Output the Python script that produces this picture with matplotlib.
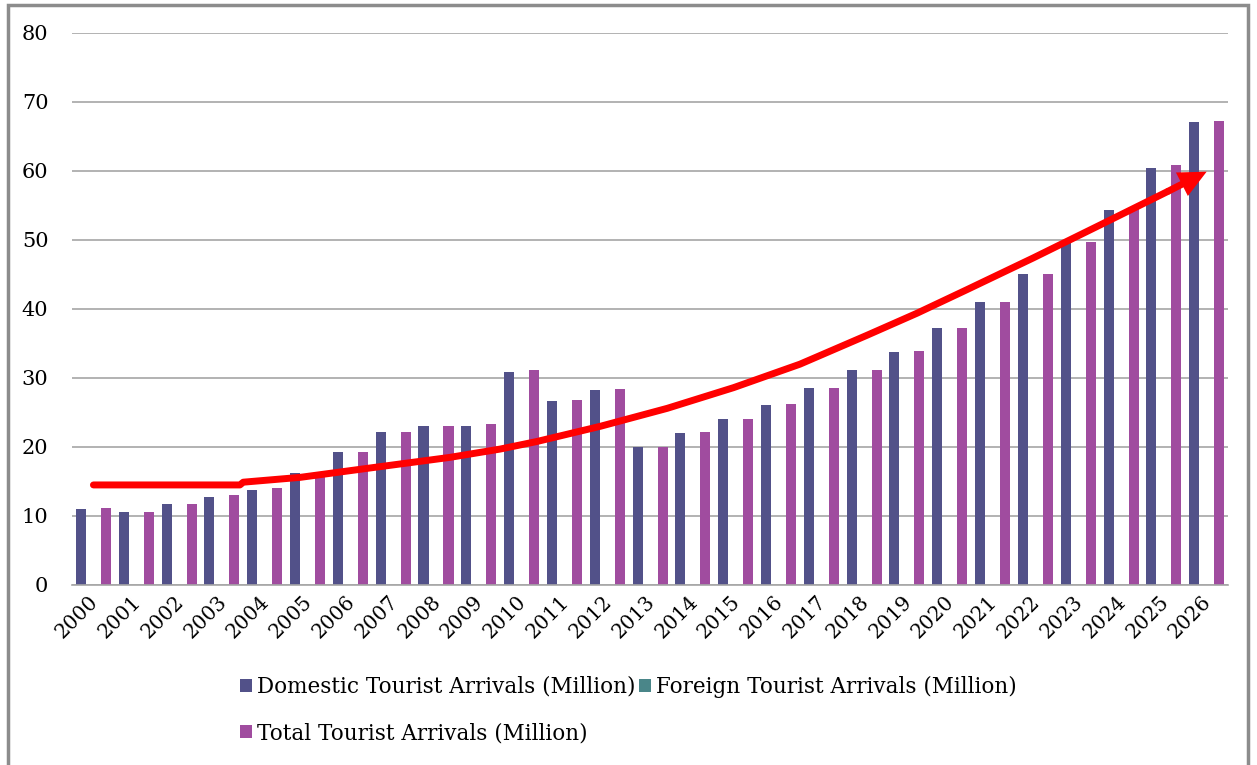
import numpy as np
import matplotlib.pyplot as plt
from matplotlib.patches import Rectangle, FancyArrowPatch
from matplotlib.transforms import ScaledTranslation

# Data
years = [str(y) for y in range(2000, 2027)]
domestic = [11.0, 10.6, 11.7, 12.8, 13.8, 16.2, 19.3, 22.1, 23.1, 23.1,
            30.9, 26.6, 28.3, 20.0, 22.0, 24.0, 26.1, 28.5, 31.1, 33.8,
            37.2, 41.0, 45.0, 49.6, 54.4, 60.4, 67.1]
foreign = [0.0] * len(years)
total = [11.1, 10.6, 11.7, 13.0, 14.0, 16.3, 19.3, 22.1, 23.1, 23.3,
         31.1, 26.8, 28.4, 20.0, 22.1, 24.0, 26.3, 28.5, 31.1, 33.9,
         37.2, 41.0, 45.0, 49.7, 54.5, 60.8, 67.3]

# hand-drawn red trend arrow (category position, value)
trend_x = [0.0, 2.5, 3.42, 3.5, 4.83, 6.39, 8.33, 9.5, 10.36, 11.84,
           13.4, 14.95, 16.5, 18.07, 19.24, 20.4, 21.95, 23.52, 25.08]
trend_y = [14.5, 14.5, 14.5, 14.9, 15.6, 16.9, 18.5, 19.7, 20.8, 23.0,
           25.6, 28.6, 32.0, 36.2, 39.4, 42.8, 47.4, 52.2, 57.0]
arrow_end = (26.0, 59.9)

c_dom = '#525189'
c_for = '#4A8689'
c_tot = '#A04C9F'
grid_c = '#A6A6A6'

plt.rcParams['font.family'] = ['DejaVu Serif']

fig = plt.figure(figsize=(12.57, 7.65), dpi=100)
ax = fig.add_axes([0.0573, 0.2353, 0.9197, 0.7216])

x = np.arange(len(years))
w = 0.235
off = 0.292
ax.bar(x - off, domestic, w, color=c_dom, label='Domestic Tourist Arrivals (Million)', zorder=2)
ax.bar(x, foreign, w, color=c_for, label='Foreign Tourist Arrivals (Million)', zorder=2)
ax.bar(x + off, total, w, color=c_tot, label='Total Tourist Arrivals (Million)', zorder=2)

# red trend line with arrow head
ax.plot(trend_x, trend_y, color='red', lw=5, solid_capstyle='round',
        solid_joinstyle='round', zorder=4)
head = FancyArrowPatch((trend_x[-1], trend_y[-1]), arrow_end,
                       arrowstyle='simple,head_length=2.0,head_width=1.9,tail_width=0.5',
                       mutation_scale=10, color='red', lw=0,
                       shrinkA=0, shrinkB=0, zorder=5)
ax.add_patch(head)

ax.set_xlim(-0.5, len(years) - 0.5)
ax.set_ylim(0, 80)
ax.set_yticks(range(0, 81, 10))
ax.yaxis.grid(True, color=grid_c, lw=1.2, zorder=0)
ax.set_axisbelow(True)
for s in ['top', 'right', 'left']:
    ax.spines[s].set_visible(False)
ax.spines['bottom'].set_color(grid_c)
ax.spines['bottom'].set_linewidth(1.2)

ax.set_xticks(x)
ax.set_xticklabels(years, rotation=45, ha='right', rotation_mode='anchor', fontsize=14.5)
ax.tick_params(axis='x', length=0, pad=5)
ax.tick_params(axis='y', length=0, pad=17, labelsize=15)
shift = ScaledTranslation(-5 / 100, 0, fig.dpi_scale_trans)
for lab in ax.get_xticklabels():
    lab.set_transform(lab.get_transform() + shift)

h, l = ax.get_legend_handles_labels()
order = [0, 2, 1]
fig.legend([h[i] for i in order], [l[i] for i in order], ncol=2,
           loc='upper left', bbox_to_anchor=(0.184, 0.128), frameon=False,
           fontsize=15.5, handlelength=0.55, handleheight=0.55, handletextpad=0.25,
           columnspacing=0.15, labelspacing=1.15, borderaxespad=0)

# outer chart frame
fig.patches.append(Rectangle((8 / 1257, -0.1), 1248 / 1257 - 8 / 1257, 1.1 - 5 / 765,
                             transform=fig.transFigure, fill=False,
                             edgecolor='#8C8C8C', lw=2.5))

fig.savefig('out.png', dpi=100)
